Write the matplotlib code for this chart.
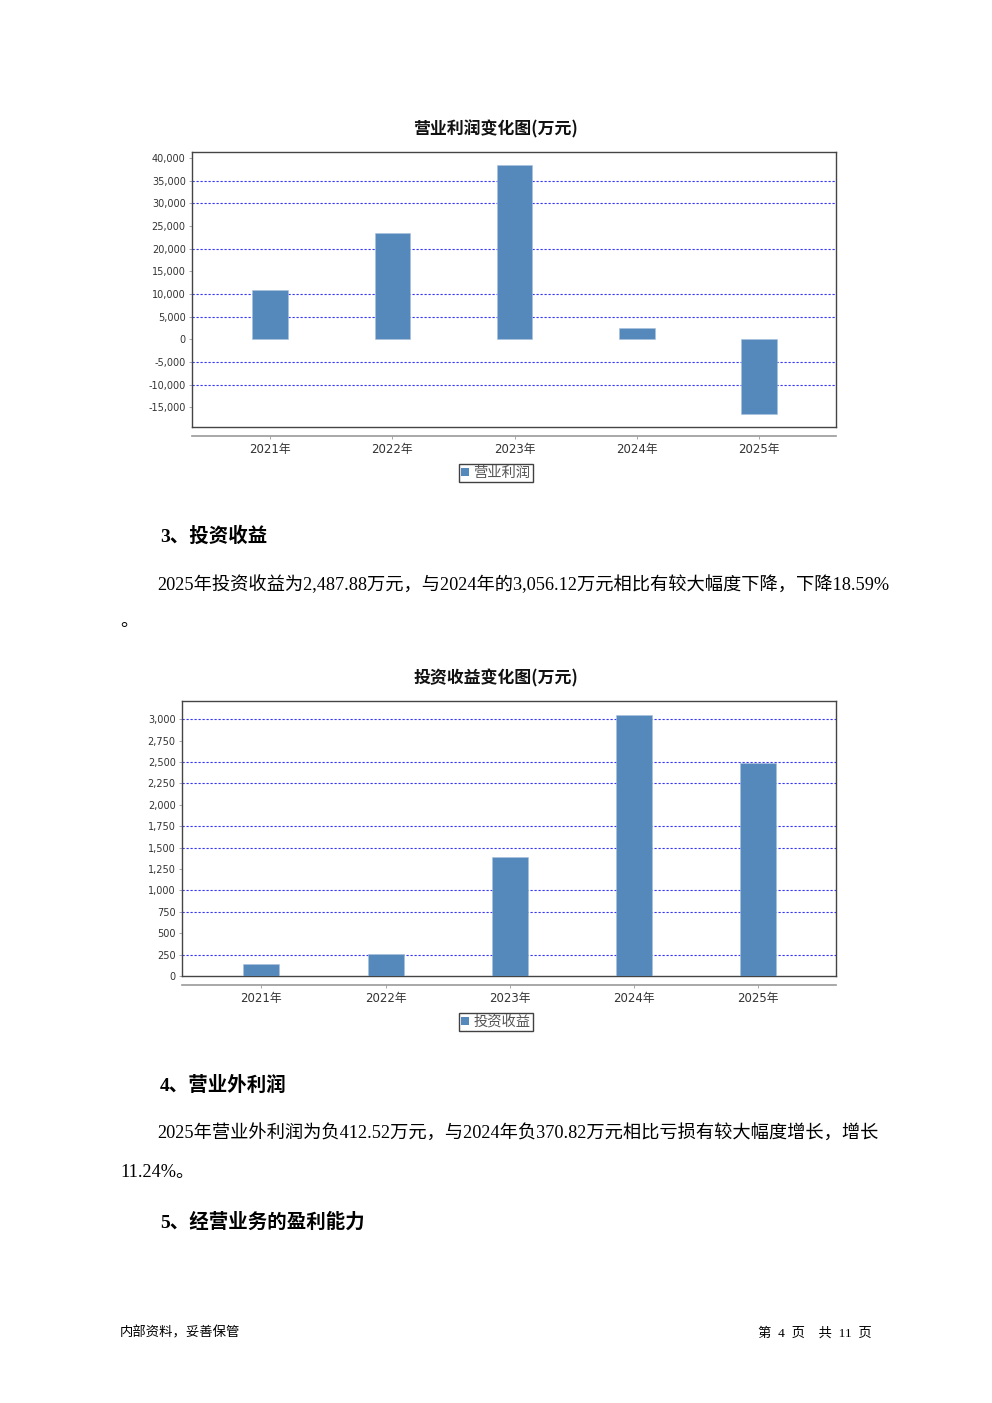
import matplotlib
matplotlib.use('Agg')
import matplotlib.pyplot as plt
from matplotlib.patches import Patch

plt.rcParams['font.family'] = ['DejaVu Sans', 'Noto Sans CJK SC']

# ---------------- data ----------------
years = ['2021年', '2022年', '2023年', '2024年', '2025年']
op_profit = [11000, 23500, 38400, 2500, -16500]
inv_income = [137, 254, 1390, 3056.12, 2487.88]

op_ticks = list(range(-15000, 40001, 5000))
op_grid = [35000, 30000, 20000, 10000, 5000, -5000, -10000]
inv_ticks = list(range(0, 3001, 250))
inv_grid = [3000, 2500, 2250, 1750, 1500, 1000, 750, 250]

op_title = '营业利润变化图(万元)'
inv_title = '投资收益变化图(万元)'
op_label = '营业利润'
inv_label = '投资收益'

# ---------------- layout helpers ----------------
W, H = 992, 1403
fig = plt.figure(figsize=(W / 100, H / 100), dpi=100)
BAR = '#5588BB'
GRID = '#3535ff'
CJK = ['Noto Sans CJK SC']
BODY = ['Liberation Serif', 'Noto Sans CJK SC']
HEAD = ['Liberation Serif', 'Noto Sans CJK SC']


def rect(x0, y0, x1, y1):
    return [x0 / W, 1 - y1 / H, (x1 - x0) / W, (y1 - y0) / H]


def ftext(x, y, s, **kw):
    fig.text(x / W, 1 - y / H, s, **kw)


def chart(frame, axis_gap, values, ticks, grid, ylim, title, title_y, label, legend_y):
    x0, y0, x1, y1 = frame
    ax = fig.add_axes(rect(x0, y0, x1, y1))
    xs = list(range(len(years)))
    ax.bar(xs, values, width=0.29, color=BAR, edgecolor='#a8c0dc', linewidth=0.4, zorder=3)
    for g in grid:
        ax.axhline(g, color=GRID, lw=0.8, dashes=(2, 1.6), zorder=1)
    ax.set_xlim(-0.64, len(years) - 1 + 0.63)
    ax.set_ylim(*ylim)
    ax.set_yticks(ticks)
    ax.set_yticklabels([f'{t:,}' for t in ticks])
    ax.tick_params(axis='y', length=2.5, width=0.6, color='#999999',
                   labelsize=7, labelcolor='#333333', pad=2)
    ax.set_xticks([])
    for s in ax.spines.values():
        s.set_color('#444444')
        s.set_linewidth(1.0)
    sec = ax.secondary_xaxis(-axis_gap / (y1 - y0))
    sec.set_xticks(xs, labels=years)
    sec.tick_params(axis='x', length=2.5, width=0.6, color='#999999',
                    labelsize=8.5, labelcolor='#333333', pad=2.5)
    sec.spines['bottom'].set_color('#999999')
    sec.spines['bottom'].set_linewidth(1.2)
    ftext(496, title_y, title, ha='center', va='center',
          fontsize=12.2, fontweight='bold', family=CJK, color='#111111')
    leg = fig.legend(handles=[Patch(facecolor=BAR, label=label)], loc='center',
                     bbox_to_anchor=(496 / W, 1 - legend_y / H),
                     prop={'family': CJK, 'size': 10.3}, labelcolor='#555555',
                     frameon=True, fancybox=False, edgecolor='#111111',
                     handlelength=0.55, handleheight=0.55, handletextpad=0.3,
                     borderpad=0.15, borderaxespad=0)
    leg.get_frame().set_linewidth(1.0)
    return ax


# chart 1: operating profit
chart((192, 152, 836, 427), 9, op_profit, op_ticks, op_grid, (-19300, 41300),
      op_title, 129, op_label, 473)

# chart 2: investment income
chart((182, 701, 836, 976), 9, inv_income, inv_ticks, inv_grid, (0, 3214),
      inv_title, 678, inv_label, 1022)

# ---------------- document text ----------------
BS = 13.15
ftext(160, 536, '3、投资收益', ha='left', va='center', fontsize=14,
      fontweight='bold', family=HEAD, color='#000000')
ftext(157, 585, '2025年投资收益为2,487.88万元，与2024年的3,056.12万元相比有较大幅度下降，下降18.59%',
      ha='left', va='center', fontsize=BS, family=BODY, color='#000000')
ftext(120, 621, '。', ha='left', va='center', fontsize=BS, family=BODY, color='#000000')

ftext(160, 1085, '4、营业外利润', ha='left', va='center', fontsize=14,
      fontweight='bold', family=HEAD, color='#000000')
ftext(157, 1134, '2025年营业外利润为负412.52万元，与2024年负370.82万元相比亏损有较大幅度增长，增长',
      ha='left', va='center', fontsize=BS, family=BODY, color='#000000')
ftext(120, 1173, '11.24%。', ha='left', va='center', fontsize=BS, family=BODY, color='#000000')

ftext(160, 1222, '5、经营业务的盈利能力', ha='left', va='center', fontsize=14,
      fontweight='bold', family=HEAD, color='#000000')

ftext(120, 1333, '内部资料，妥善保管', ha='left', va='center', fontsize=9.6,
      family=BODY, color='#000000')
ftext(872, 1333, '第  4  页    共  11  页', ha='right', va='center', fontsize=9.6,
      family=BODY, color='#000000')

fig.savefig('out.png', dpi=100, facecolor='white')
